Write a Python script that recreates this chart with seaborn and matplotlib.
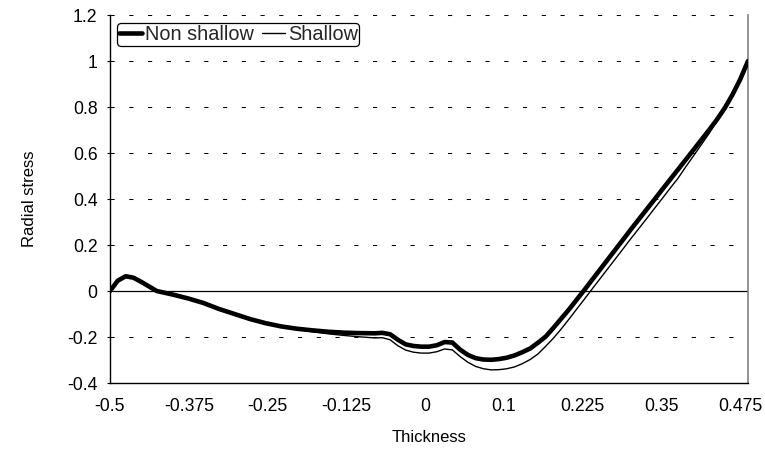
import matplotlib
matplotlib.use("Agg")
import matplotlib.pyplot as plt
import seaborn as sns
import pandas as pd
from matplotlib.lines import Line2D

sns.set_theme(style="white")
plt.rcParams["font.family"] = ["Liberation Sans", "DejaVu Sans"]
plt.rcParams["lines.scale_dashes"] = False

# Category axis: labelled every tenth station through the thickness
x_tick_labels = ["-0.5", "-0.375", "-0.25", "-0.125", "0", "0.1", "0.225", "0.35", "0.475"]
x_tick_index = [0, 10, 20, 30, 40, 50, 60, 70, 80]
y_ticks = [-0.4, -0.2, 0, 0.2, 0.4, 0.6, 0.8, 1, 1.2]
y_tick_labels = ["-0.4", "-0.2", "0", "0.2", "0.4", "0.6", "0.8", "1", "1.2"]

# Station position along the thickness
station = [0, 0.99, 1.98, 2.96, 3.95, 4.94, 5.93, 7.9, 9.88, 11.85, 13.83, 15.8,
           17.78, 19.76, 21.73, 23.71, 25.68, 27.66, 29.63, 31.61, 33.59, 34.57,
           35.56, 36.55, 37.54, 38.52, 39.51, 40.5, 41.49, 42.48, 43.46, 44.45,
           45.44, 46.43, 47.41, 48.4, 49.39, 50.38, 51.37, 52.35, 53.34, 54.33,
           55.32, 56.3, 57.29, 58.28, 59.27, 60.26, 61.24, 62.23, 63.22, 64.21,
           65.2, 66.18, 67.17, 68.16, 69.15, 70.13, 71.12, 72.11, 73.1, 74.09,
           75.07, 76.06, 77.05, 78.04, 79.02, 80.01, 81.0]

non_shallow = [0.0, 0.045, 0.064, 0.058, 0.040, 0.020, 0.0, -0.015, -0.032,
               -0.052, -0.078, -0.100, -0.122, -0.140, -0.154, -0.164, -0.171,
               -0.177, -0.181, -0.183, -0.184, -0.182, -0.188, -0.212, -0.232,
               -0.239, -0.242, -0.242, -0.236, -0.222, -0.224, -0.255, -0.278,
               -0.292, -0.298, -0.299, -0.296, -0.290, -0.280, -0.266, -0.250,
               -0.225, -0.198, -0.160, -0.120, -0.080, -0.037, 0.006, 0.050,
               0.094, 0.138, 0.182, 0.226, 0.270, 0.313, 0.356, 0.399, 0.442,
               0.485, 0.528, 0.571, 0.614, 0.657, 0.700, 0.745, 0.795, 0.853,
               0.920, 1.0]

shallow = [0.0, 0.045, 0.064, 0.058, 0.040, 0.020, 0.0, -0.015, -0.032,
           -0.052, -0.078, -0.100, -0.122, -0.140, -0.155, -0.167, -0.177,
           -0.186, -0.193, -0.199, -0.204, -0.203, -0.212, -0.238, -0.257,
           -0.266, -0.270, -0.270, -0.264, -0.252, -0.256, -0.285, -0.310,
           -0.328, -0.338, -0.343, -0.342, -0.338, -0.330, -0.316, -0.298,
           -0.274, -0.240, -0.205, -0.165, -0.122, -0.078, -0.034, 0.010,
           0.054, 0.098, 0.142, 0.186, 0.230, 0.273, 0.316, 0.360, 0.403,
           0.447, 0.490, 0.540, 0.588, 0.636, 0.685, 0.740, 0.793, 0.852,
           0.920, 1.0]

df = pd.DataFrame({"station": station, "Non shallow": non_shallow, "Shallow": shallow})

fig = plt.figure(figsize=(7.65, 4.55), dpi=100)
ax = fig.add_axes([110 / 765, 1 - 383 / 455, 638 / 765, 368 / 455])

# Dashed horizontal gridlines and the solid zero line
for yv in y_ticks:
    if yv in (0, -0.4):
        continue
    ax.axhline(yv, color="black", lw=0.75, linestyle=(0, (3.0, 10.5)), zorder=1)
ax.axhline(0, color="black", lw=0.9, zorder=1)

sns.lineplot(data=df, x="station", y="Non shallow", ax=ax, color="black",
             lw=3.3, sort=False, estimator=None, zorder=3,
             solid_capstyle="round", solid_joinstyle="round")
sns.lineplot(data=df, x="station", y="Shallow", ax=ax, color="black",
             lw=1.0, sort=False, estimator=None, zorder=4,
             solid_joinstyle="round")

ax.set_xlim(0, 81)
ax.set_ylim(-0.4, 1.2)
ax.set_xticks(x_tick_index)
ax.set_xticklabels(x_tick_labels)
ax.set_yticks(y_ticks)
ax.set_yticklabels(y_tick_labels)
ax.tick_params(axis="x", length=0, pad=10.5, labelsize=12.7, colors="black")
ax.tick_params(axis="y", length=2.5, width=0.8, pad=6.5, labelsize=12.7,
               colors="black", left=True, direction="out")

for side in ("left", "bottom"):
    ax.spines[side].set_color("black")
    ax.spines[side].set_linewidth(1.0)
ax.spines["top"].set_visible(False)
ax.spines["right"].set_color("#808080")
ax.spines["right"].set_linewidth(1.2)

ax.set_xlabel("Thickness", fontsize=12, labelpad=11, color="black")
ax.set_ylabel("Radial stress", fontsize=12, labelpad=22, color="black")

handles = [Line2D([], [], color="black", lw=3.3),
           Line2D([], [], color="black", lw=1.0)]
leg = ax.legend(handles, ["Non shallow", "Shallow"], loc="upper left",
                bbox_to_anchor=(0.011, 0.977), ncol=2, fontsize=14.3,
                handlelength=1.2, handletextpad=0.12, columnspacing=0.4,
                borderpad=0.08, borderaxespad=0.0, frameon=True, fancybox=True)
frame = leg.get_frame()
frame.set_edgecolor("black")
frame.set_linewidth(0.9)
frame.set_alpha(1.0)

fig.savefig("out.png", dpi=100)
